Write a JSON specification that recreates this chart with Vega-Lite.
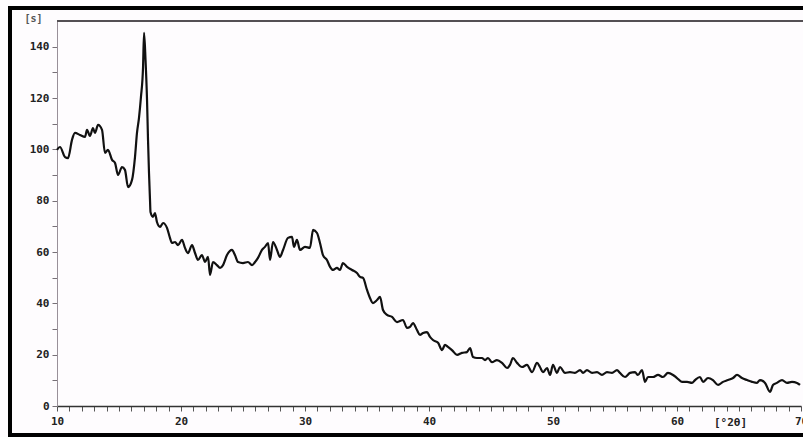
{
  "$schema": "https://vega.github.io/schema/vega-lite/v6.json",
  "autosize": {"type": "none"},
  "width": 744,
  "height": 385,
  "padding": {"left": 57, "top": 21, "right": 2, "bottom": 31},
  "background": "#fefcfe",
  "config": {
    "view": {"stroke": null},
    "axisX": {
      "grid": false, "domainColor": "#333333", "domainWidth": 1.5,
      "tickColor": "#555555", "tickSize": 5, "tickWidth": 1,
      "labelFont": "DejaVu Sans Mono", "labelFontWeight": "bold", "labelFontSize": 11,
      "labelColor": "#222222", "labelPadding": 4, "labelFlush": false, "labelOverlap": false,
      "titleFont": "DejaVu Sans Mono", "titleFontWeight": "bold",
      "titleFontSize": 11, "titleColor": "#222222", "titleX": 673, "titleY": 16,
      "titleBaseline": "middle", "titleAnchor": "middle"
    },
    "axisY": {
      "grid": false, "domainColor": "#999099", "domainWidth": 1,
      "tickColor": "#777077", "tickSize": 5, "tickWidth": 1,
      "labelFont": "DejaVu Sans Mono", "labelFontWeight": "bold", "labelFontSize": 11,
      "labelColor": "#222222", "labelPadding": 3, "labelOverlap": false,
      "titleFont": "DejaVu Sans Mono", "titleFontWeight": "bold",
      "titleFontSize": 10, "titleColor": "#555555", "titleAngle": 0,
      "titleX": -24, "titleY": -3, "titleBaseline": "middle", "titleAlign": "center"
    }
  },
  "data": {"values": [
    {"t":10.00,"c":99.8},{"t":10.24,"c":100.9},{"t":10.65,"c":97.0},{"t":10.89,"c":96.6},{"t":11.21,"c":103.7},{"t":11.45,"c":106.4},{"t":11.85,"c":105.6},{"t":12.26,"c":104.8},{"t":12.42,"c":107.6},{"t":12.66,"c":105.2},{"t":12.90,"c":108.3},{"t":13.06,"c":106.4},{"t":13.31,"c":109.5},{"t":13.63,"c":107.6},{"t":13.87,"c":98.6},{"t":14.11,"c":99.8},{"t":14.44,"c":95.9},{"t":14.68,"c":94.7},{"t":14.92,"c":90.0},{"t":15.24,"c":93.1},{"t":15.48,"c":92.0},{"t":15.73,"c":85.3},{"t":16.05,"c":88.1},{"t":16.29,"c":97.0},{"t":16.45,"c":106.4},{"t":16.61,"c":112.2},{"t":16.77,"c":120.4},{"t":16.94,"c":132.1},{"t":17.02,"c":145.4},{"t":17.14,"c":134.8},{"t":17.26,"c":119.3},{"t":17.34,"c":103.7},{"t":17.42,"c":90.8},{"t":17.50,"c":80.3},{"t":17.54,"c":75.6},{"t":17.74,"c":73.7},{"t":17.90,"c":75.2},{"t":18.06,"c":71.7},{"t":18.31,"c":69.8},{"t":18.55,"c":71.3},{"t":18.87,"c":69.4},{"t":19.11,"c":65.5},{"t":19.27,"c":63.5},{"t":19.52,"c":63.9},{"t":19.76,"c":62.7},{"t":20.08,"c":64.7},{"t":20.32,"c":61.6},{"t":20.56,"c":59.6},{"t":20.89,"c":62.7},{"t":21.13,"c":59.6},{"t":21.37,"c":56.9},{"t":21.69,"c":58.8},{"t":21.94,"c":56.1},{"t":22.18,"c":58.1},{"t":22.34,"c":51.1},{"t":22.58,"c":56.1},{"t":22.90,"c":54.9},{"t":23.15,"c":53.8},{"t":23.39,"c":54.9},{"t":23.71,"c":58.8},{"t":24.11,"c":60.8},{"t":24.35,"c":58.8},{"t":24.60,"c":56.1},{"t":25.00,"c":55.7},{"t":25.40,"c":56.1},{"t":25.73,"c":54.9},{"t":25.97,"c":56.1},{"t":26.21,"c":57.7},{"t":26.53,"c":60.8},{"t":26.77,"c":62.0},{"t":27.02,"c":63.5},{"t":27.18,"c":56.9},{"t":27.42,"c":63.9},{"t":27.74,"c":60.8},{"t":27.98,"c":58.1},{"t":28.23,"c":60.8},{"t":28.63,"c":65.5},{"t":28.95,"c":65.9},{"t":29.11,"c":62.0},{"t":29.35,"c":64.7},{"t":29.60,"c":60.8},{"t":30.00,"c":62.0},{"t":30.40,"c":61.6},{"t":30.65,"c":68.6},{"t":30.97,"c":67.4},{"t":31.21,"c":63.5},{"t":31.45,"c":58.8},{"t":31.77,"c":56.9},{"t":32.02,"c":54.2},{"t":32.26,"c":53.0},{"t":32.58,"c":53.8},{"t":32.82,"c":53.0},{"t":33.06,"c":55.7},{"t":33.39,"c":54.2},{"t":33.79,"c":53.0},{"t":34.19,"c":51.8},{"t":34.44,"c":50.3},{"t":34.68,"c":49.9},{"t":35.00,"c":45.2},{"t":35.24,"c":42.1},{"t":35.48,"c":40.1},{"t":35.81,"c":41.3},{"t":36.05,"c":42.5},{"t":36.29,"c":37.4},{"t":36.61,"c":35.5},{"t":37.02,"c":34.7},{"t":37.42,"c":32.7},{"t":37.90,"c":33.5},{"t":38.23,"c":30.4},{"t":38.47,"c":30.8},{"t":38.71,"c":32.3},{"t":39.03,"c":29.6},{"t":39.27,"c":27.7},{"t":39.52,"c":28.4},{"t":39.84,"c":28.8},{"t":40.08,"c":26.9},{"t":40.32,"c":25.7},{"t":40.73,"c":24.6},{"t":41.05,"c":21.8},{"t":41.29,"c":23.8},{"t":41.53,"c":23.0},{"t":41.85,"c":21.8},{"t":42.26,"c":19.9},{"t":42.66,"c":20.7},{"t":43.06,"c":21.0},{"t":43.31,"c":22.6},{"t":43.55,"c":19.1},{"t":43.87,"c":18.7},{"t":44.27,"c":18.7},{"t":44.52,"c":17.9},{"t":44.76,"c":18.7},{"t":45.08,"c":17.1},{"t":45.48,"c":17.9},{"t":45.89,"c":16.8},{"t":46.29,"c":14.8},{"t":46.53,"c":16.0},{"t":46.77,"c":18.7},{"t":47.10,"c":16.8},{"t":47.50,"c":15.2},{"t":47.90,"c":16.0},{"t":48.31,"c":13.2},{"t":48.71,"c":16.8},{"t":48.95,"c":15.2},{"t":49.19,"c":13.2},{"t":49.52,"c":14.8},{"t":49.76,"c":12.1},{"t":50.00,"c":16.0},{"t":50.32,"c":12.9},{"t":50.56,"c":15.2},{"t":50.97,"c":12.9},{"t":51.37,"c":13.2},{"t":51.77,"c":12.9},{"t":52.18,"c":14.0},{"t":52.42,"c":12.9},{"t":52.74,"c":14.0},{"t":53.15,"c":12.9},{"t":53.55,"c":13.2},{"t":53.95,"c":12.1},{"t":54.35,"c":13.2},{"t":54.76,"c":12.9},{"t":55.16,"c":14.0},{"t":55.40,"c":12.9},{"t":55.81,"c":11.3},{"t":56.21,"c":12.9},{"t":56.61,"c":13.2},{"t":56.85,"c":12.1},{"t":57.18,"c":14.0},{"t":57.42,"c":9.4},{"t":57.66,"c":11.3},{"t":58.06,"c":11.3},{"t":58.47,"c":12.1},{"t":58.87,"c":11.3},{"t":59.27,"c":12.9},{"t":59.68,"c":12.1},{"t":60.00,"c":10.9},{"t":60.40,"c":9.4},{"t":60.81,"c":9.4},{"t":61.21,"c":9.0},{"t":61.45,"c":10.1},{"t":61.85,"c":11.3},{"t":62.10,"c":9.4},{"t":62.50,"c":10.9},{"t":62.90,"c":10.1},{"t":63.31,"c":8.2},{"t":63.71,"c":9.4},{"t":64.11,"c":10.1},{"t":64.52,"c":10.9},{"t":64.84,"c":12.1},{"t":65.24,"c":10.9},{"t":65.65,"c":10.1},{"t":66.05,"c":9.4},{"t":66.45,"c":9.0},{"t":66.69,"c":10.1},{"t":67.10,"c":9.0},{"t":67.50,"c":5.5},{"t":67.74,"c":8.2},{"t":68.06,"c":9.0},{"t":68.47,"c":10.1},{"t":68.87,"c":9.0},{"t":69.27,"c":9.4},{"t":69.68,"c":9.0},{"t":69.92,"c":8.2}
  ]},
  "layer": [
    {
      "mark": {"type": "line", "color": "#111111", "strokeWidth": 2.2, "interpolate": "monotone"},
      "encoding": {
        "x": {
          "field": "t", "type": "quantitative",
          "scale": {"domain": [10, 70], "nice": false, "zero": false},
          "axis": {"values": [10,11,12,13,14,15,16,17,18,19,20,21,22,23,24,25,26,27,28,29,30,31,32,33,34,35,36,37,38,39,40,41,42,43,44,45,46,47,48,49,50,51,52,53,54,55,56,57,58,59,60,61,62,63,64,65,66,67,68,69,70], "labelExpr": "datum.value % 10 == 0 ? datum.label : ''", "title": "[°2θ]"}
        },
        "y": {
          "field": "c", "type": "quantitative",
          "scale": {"domain": [0, 150], "nice": false},
          "axis": {"values": [0,10,20,30,40,50,60,70,80,90,100,110,120,130,140], "labelExpr": "datum.value % 20 == 0 ? datum.label : ''", "title": "[s]"}
        }
      }
    },
    {
      "mark": {"type": "rule", "color": "#555055", "strokeWidth": 1.3, "clip": false},
      "encoding": {
        "y": {"datum": 150, "type": "quantitative", "axis": {"values": [0,10,20,30,40,50,60,70,80,90,100,110,120,130,140], "labelExpr": "datum.value % 20 == 0 ? datum.label : ''", "title": "[s]"}},
        "x": {"datum": 10, "type": "quantitative", "axis": {"values": [10,11,12,13,14,15,16,17,18,19,20,21,22,23,24,25,26,27,28,29,30,31,32,33,34,35,36,37,38,39,40,41,42,43,44,45,46,47,48,49,50,51,52,53,54,55,56,57,58,59,60,61,62,63,64,65,66,67,68,69,70], "labelExpr": "datum.value % 10 == 0 ? datum.label : ''", "title": "[°2θ]"}},
        "x2": {"datum": 70.3}
      }
    },
    {
      "mark": {"type": "rule", "color": "#000000", "strokeWidth": 3, "clip": false},
      "encoding": {
        "y": {"datum": 155.1, "type": "quantitative", "axis": {"values": [0,10,20,30,40,50,60,70,80,90,100,110,120,130,140], "labelExpr": "datum.value % 20 == 0 ? datum.label : ''", "title": "[s]"}},
        "x": {"datum": 6.2, "type": "quantitative", "axis": {"values": [10,11,12,13,14,15,16,17,18,19,20,21,22,23,24,25,26,27,28,29,30,31,32,33,34,35,36,37,38,39,40,41,42,43,44,45,46,47,48,49,50,51,52,53,54,55,56,57,58,59,60,61,62,63,64,65,66,67,68,69,70], "labelExpr": "datum.value % 10 == 0 ? datum.label : ''", "title": "[°2θ]"}},
        "x2": {"datum": 70.4}
      }
    },
    {
      "mark": {"type": "rule", "color": "#000000", "strokeWidth": 3, "clip": false},
      "encoding": {
        "y": {"datum": -11.4, "type": "quantitative", "axis": {"values": [0,10,20,30,40,50,60,70,80,90,100,110,120,130,140], "labelExpr": "datum.value % 20 == 0 ? datum.label : ''", "title": "[s]"}},
        "x": {"datum": 6.2, "type": "quantitative", "axis": {"values": [10,11,12,13,14,15,16,17,18,19,20,21,22,23,24,25,26,27,28,29,30,31,32,33,34,35,36,37,38,39,40,41,42,43,44,45,46,47,48,49,50,51,52,53,54,55,56,57,58,59,60,61,62,63,64,65,66,67,68,69,70], "labelExpr": "datum.value % 10 == 0 ? datum.label : ''", "title": "[°2θ]"}},
        "x2": {"datum": 70.4}
      }
    },
    {
      "mark": {"type": "rule", "color": "#000000", "strokeWidth": 3, "clip": false},
      "encoding": {
        "x": {"datum": 6.2, "type": "quantitative", "axis": {"values": [10,11,12,13,14,15,16,17,18,19,20,21,22,23,24,25,26,27,28,29,30,31,32,33,34,35,36,37,38,39,40,41,42,43,44,45,46,47,48,49,50,51,52,53,54,55,56,57,58,59,60,61,62,63,64,65,66,67,68,69,70], "labelExpr": "datum.value % 10 == 0 ? datum.label : ''", "title": "[°2θ]"}},
        "y": {"datum": 155.7, "type": "quantitative", "axis": {"values": [0,10,20,30,40,50,60,70,80,90,100,110,120,130,140], "labelExpr": "datum.value % 20 == 0 ? datum.label : ''", "title": "[s]"}},
        "y2": {"datum": -12}
      }
    }
  ]
}
